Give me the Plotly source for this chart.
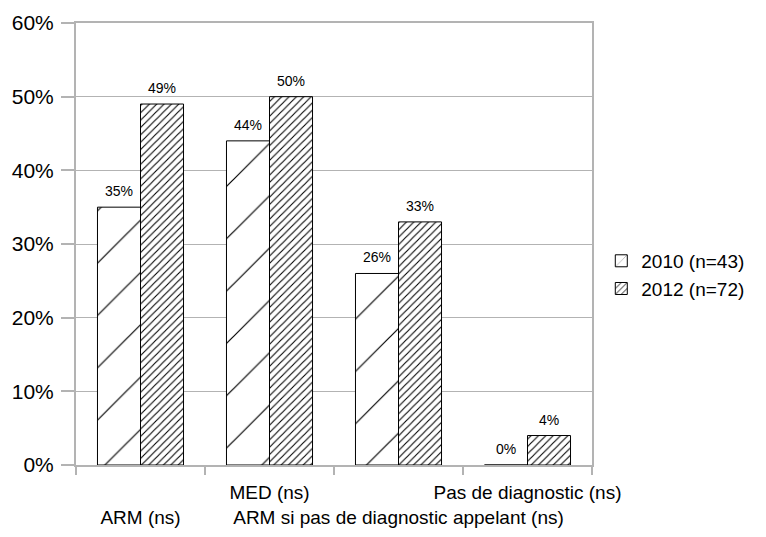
import plotly.graph_objects as go

# Données
categories = ["ARM (ns)", "MED (ns)", "ARM si pas de diagnostic appelant (ns)", "Pas de diagnostic (ns)"]
tick_labels = ["<br>ARM (ns)", "MED (ns)", "<br>ARM si pas de diagnostic appelant (ns)", "Pas de diagnostic (ns)"]
serie_2010 = [35, 44, 26, 0]
serie_2012 = [49, 50, 33, 4]
noms = ["2010 (n=43)", "2012 (n=72)"]

FONT = "Liberation Sans, Arial, sans-serif"
GRIS = "#b3b3b3"

# motif: (taille, solidité) - hachures larges pour 2010, serrées pour 2012
motifs = [(37, 0.032), (5.2, 0.21)]
series = [serie_2010, serie_2012]

fig = go.Figure()

for nom, valeurs, (taille, solid) in zip(noms, series, motifs):
    fig.add_trace(go.Bar(
        name=nom,
        x=categories,
        y=valeurs,
        marker=dict(
            color="white",
            line=dict(color="black", width=1),
            pattern=dict(shape="/", size=taille, solidity=solid,
                         fgcolor="black", bgcolor="white", fgopacity=1),
        ),
        hoverinfo="x+y",
    ))

# étiquettes de valeurs au-dessus des barres
decalages = [-21.5, 21.5]
for valeurs, dx in zip(series, decalages):
    for cat, v in zip(categories, valeurs):
        fig.add_annotation(
            x=cat, y=v, text=f"{v}%",
            xshift=dx, yshift=6,
            yanchor="bottom", showarrow=False,
            font=dict(size=14, color="#000"),
        )

fig.update_layout(
    width=766,
    height=537,
    margin=dict(l=76, r=174, t=23, b=72),
    paper_bgcolor="white",
    plot_bgcolor="white",
    font=dict(family=FONT, size=20, color="#000"),
    barmode="group",
    bargap=0.333,
    bargroupgap=0,
    showlegend=True,
    # légende gardée dans la largeur de la figure pour ne pas rétrécir le graphique
    legend=dict(
        x=1.018, y=0.43, xanchor="left", yanchor="middle",
        font=dict(size=19), bgcolor="rgba(0,0,0,0)",
        tracegroupgap=2,
    ),
)

fig.update_xaxes(
    tickvals=categories,
    ticktext=tick_labels,
    tickson="boundaries",
    ticks="outside",
    ticklen=8,
    tickcolor=GRIS,
    tickwidth=2,
    showline=True,
    linecolor=GRIS,
    linewidth=2,
    mirror=True,
    showgrid=False,
    tickangle=0,
    tickfont=dict(size=19),
    ticklabelstandoff=9,
    automargin=False,
)

fig.update_yaxes(
    range=[0, 60],
    dtick=10,
    ticksuffix="%",
    ticks="outside",
    ticklen=13,
    tickcolor=GRIS,
    tickwidth=2,
    showline=True,
    linecolor=GRIS,
    linewidth=2,
    mirror=True,
    showgrid=True,
    gridcolor=GRIS,
    gridwidth=1,
    zeroline=False,
    tickfont=dict(size=21),
    ticklabelstandoff=3,
    automargin=False,
)

# la page par défaut ajoute une marge de 8px autour du graphique
fig.write_html("out.html", config={"displayModeBar": False},
               post_script="document.body.style.margin='0';")
